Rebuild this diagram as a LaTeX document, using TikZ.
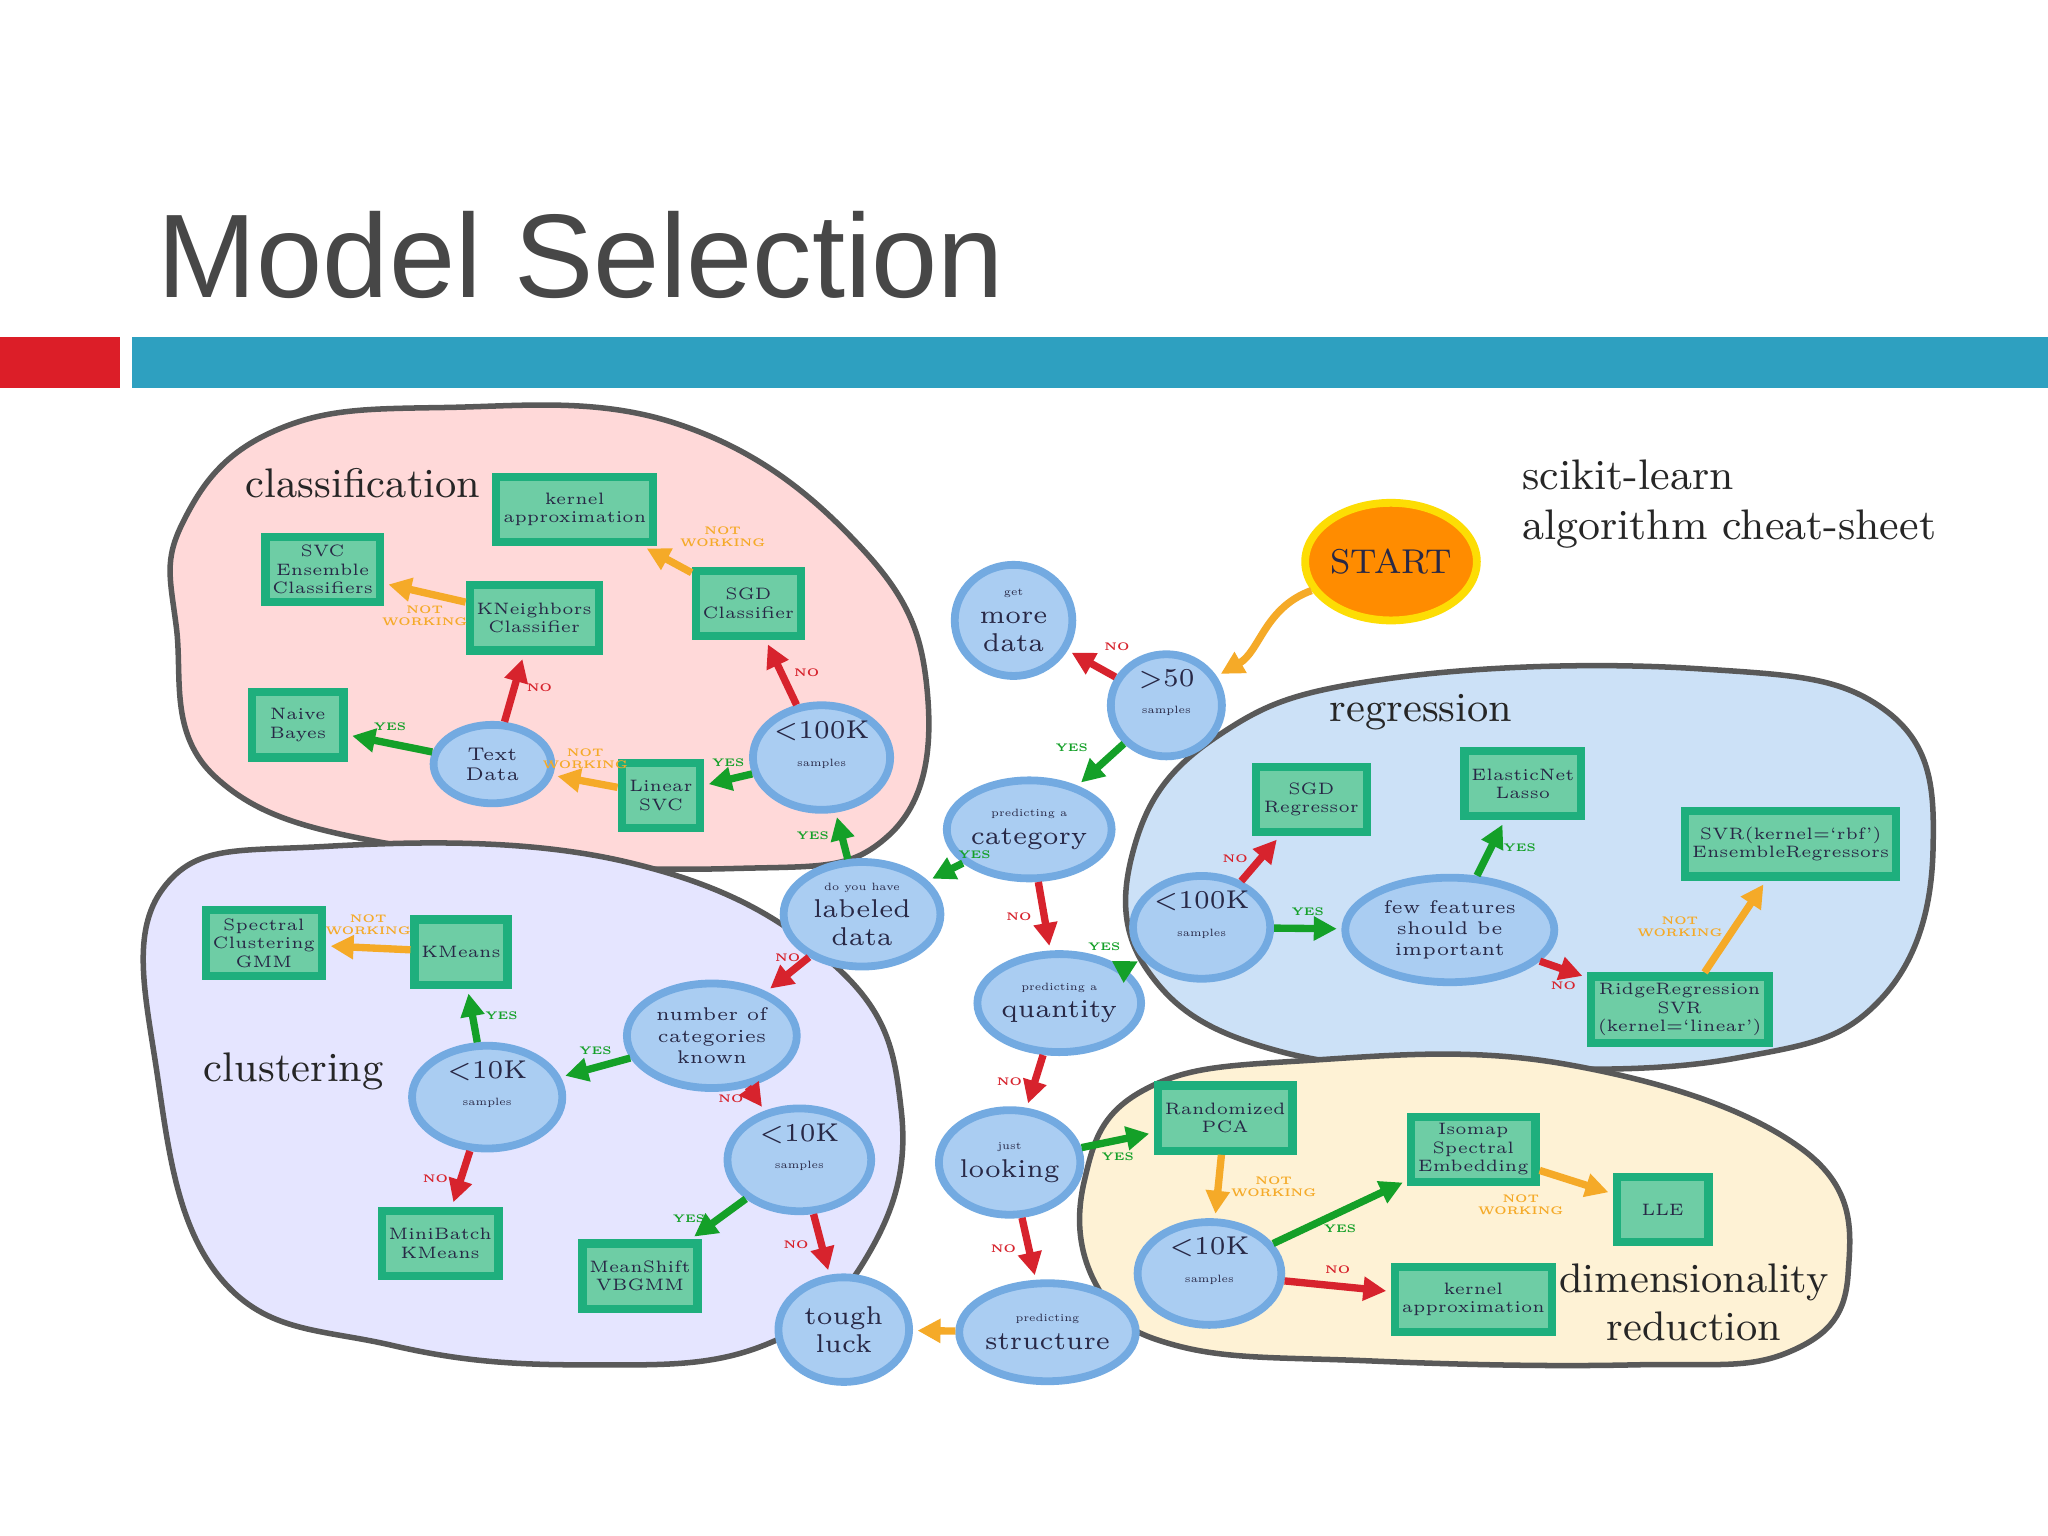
\documentclass[tikz,border=0pt]{standalone}
\usepackage{fontspec}
\newfontfamily\sans{Liberation Sans}
\usetikzlibrary{arrows.meta,shapes.geometric}
\definecolor{barblue}{RGB}{46,160,192}
\definecolor{barred}{RGB}{220,30,40}
\definecolor{elfill}{RGB}{170,205,242}
\definecolor{eldraw}{RGB}{115,170,225}
\definecolor{bxfill}{RGB}{110,205,165}
\definecolor{bxdraw}{RGB}{30,175,125}
\definecolor{cy}{RGB}{20,160,40}
\definecolor{cn}{RGB}{215,35,45}
\definecolor{co}{RGB}{245,170,40}
\definecolor{txt}{RGB}{40,40,70}
\begin{document}
\begin{tikzpicture}[x=0.01cm,y=-0.01cm,
 el/.style={ellipse,fill=elfill,draw=eldraw,line width=1.7pt,align=center,text=txt,inner sep=0pt,font=\fontsize{5.6}{6}\selectfont},
 bx/.style={rectangle,fill=bxfill,draw=bxdraw,line width=1.8pt,align=center,text=txt,inner sep=1.5pt,minimum height=0.5cm,font=\fontsize{3.6}{4}\selectfont},
 blob/.style={draw=gray!70!black,line width=1.2pt},
 ar/.style={line width=1.6pt,-{Triangle[length=5pt,width=5pt]},shorten >=1pt},
 Y/.style={ar,cy}, N/.style={ar,cn}, O/.style={ar,co},
 lb/.style={font=\fontsize{2.4}{2.6}\selectfont\bfseries,inner sep=2pt,align=center},
 grp/.style={font=\fontsize{9}{10.5}\selectfont,text=black!85}]
\useasboundingbox (0,0) rectangle (1568,1176);
\fill[white] (0,0) rectangle (1568,1176);
\node[anchor=base west,font=\sans\fontsize{25.9}{25.9}\selectfont,text=black!72,inner sep=0] (title) at (120,228) {Model Selection};
\fill[barred] (0,258) rectangle (92,297);
\fill[barblue] (101,258) rectangle (1568,297);
% blobs
\draw[blob,fill=red!15] plot[smooth cycle,tension=0.7] coordinates {(140,400)(210,330)(340,312)(520,325)(660,420)(710,530)(680,640)(560,665)(320,650)(165,595)(135,480)};
\draw[blob,fill=blue!10] plot[smooth cycle,tension=0.7] coordinates {(125,680)(250,648)(480,660)(640,740)(690,850)(665,960)(585,1030)(450,1045)(300,1030)(170,980)(120,820)};
\draw[blob,fill=elfill!60] plot[smooth cycle,tension=0.7] coordinates {(868,650)(930,565)(1060,520)(1300,512)(1445,545)(1480,650)(1440,765)(1330,810)(1150,818)(980,805)(880,745)};
\draw[blob,fill=yellow!40!orange!15] plot[smooth cycle,tension=0.7] coordinates {(830,905)(875,835)(1000,812)(1200,815)(1380,880)(1415,975)(1370,1035)(1250,1045)(1050,1042)(900,1030)(840,985)};
% group labels
\node[grp] (gcl) at (278,370) {classification};
\node[grp] (gcu) at (225,820) {clustering};
\node[grp] (gre) at (1088,545) {regression};
\node[grp,align=center] (gdr) at (1297,997) {dimensionality\\reduction};
\node[grp,anchor=west,align=left,font=\fontsize{9.3}{11}\selectfont] (gsk) at (1153,386) {scikit-learn\\algorithm cheat-sheet};
% ellipses
\node[el,fill=orange!90!yellow,draw=yellow!80!orange,minimum width=1.1cm,minimum height=0.9cm,font=\fontsize{7.5}{8}\selectfont] (start) at (1065,430) {START};
\def\sm#1{{\fontsize{2.3}{2.6}\selectfont #1}\\}
\node[el,minimum width=0.85cm,minimum height=0.75cm] (g50) at (893,540) {>50\\\sm{samples}};
\node[el,minimum width=0.9cm,minimum height=0.85cm] (more) at (776,475) {\sm{get}more\\data};
\node[el,minimum width=1.0cm,minimum height=0.75cm] (cat) at (788,635) {\sm{predicting a}category};
\node[el,minimum width=1.2cm,minimum height=0.8cm] (lab) at (660,700) {\sm{do you have}labeled\\data};
\node[el,minimum width=1.05cm,minimum height=0.8cm] (c100) at (629,580) {<100K\\\sm{samples}};
\node[el,minimum width=0.9cm,minimum height=0.6cm,font=\fontsize{4}{4.4}\selectfont] (text) at (377,585) {Text\\Data};
\node[el,minimum width=1.05cm,minimum height=0.75cm] (qty) at (811,768) {\sm{predicting a}quantity};
\node[el,minimum width=1.05cm,minimum height=0.7cm] (r100) at (920,710) {<100K\\\sm{samples}};
\node[el,minimum width=1.6cm,minimum height=0.8cm,font=\fontsize{4}{4.6}\selectfont] (few) at (1110,712) {few features\\should be\\important};
\node[el,minimum width=1.3cm,minimum height=0.8cm,font=\fontsize{4}{4.6}\selectfont] (num) at (545,793) {number of\\categories\\known};
\node[el,minimum width=1.15cm,minimum height=0.7cm] (k10a) at (373,840) {<10K\\\sm{samples}};
\node[el,minimum width=1.1cm,minimum height=0.65cm] (k10b) at (612,888) {<10K\\\sm{samples}};
\node[el,minimum width=0.95cm,minimum height=0.8cm] (look) at (773,890) {\sm{just}looking};
\node[el,minimum width=1.0cm,minimum height=0.8cm] (tough) at (646,1018) {tough\\luck};
\node[el,minimum width=1.05cm,minimum height=0.75cm] (struct) at (802,1020) {\sm{predicting}structure};
\node[el,minimum width=1.1cm,minimum height=0.65cm] (k10c) at (926,975) {<10K\\\sm{samples}};
% boxes
\node[bx,minimum width=1.1cm] (kac) at (440,390) {kernel\\approximation};
\node[bx,minimum width=0.75cm] (sgdc) at (573,462) {SGD\\Classifier};
\node[bx,minimum width=0.85cm] (svc) at (247,436) {SVC\\Ensemble\\Classifiers};
\node[bx,minimum width=0.95cm] (knn) at (409,473) {KNeighbors\\Classifier};
\node[bx,minimum width=0.7cm] (nb) at (228,555) {Naive\\Bayes};
\node[bx,minimum width=0.6cm] (lsvc) at (506,609) {Linear\\SVC};
\node[bx,minimum width=0.85cm] (spec) at (202,722) {Spectral\\Clustering\\GMM};
\node[bx,minimum width=0.7cm] (km) at (353,729) {KMeans};
\node[bx,minimum width=0.85cm] (mbk) at (337,952) {MiniBatch\\KMeans};
\node[bx,minimum width=0.85cm] (ms) at (490,977) {MeanShift\\VBGMM};
\node[bx,minimum width=0.85cm] (sgdr) at (1004,612) {SGD\\Regressor};
\node[bx,minimum width=0.85cm] (en) at (1166,600) {ElasticNet\\Lasso};
\node[bx,minimum width=1.5cm] (svr) at (1371,646) {SVR(kernel=`rbf')\\EnsembleRegressors};
\node[bx,minimum width=1.2cm] (ridge) at (1286,773) {RidgeRegression\\SVR\\(kernel=`linear')};
\node[bx,minimum width=0.95cm] (pca) at (938,856) {Randomized\\PCA};
\node[bx,minimum width=0.8cm] (iso) at (1128,880) {Isomap\\Spectral\\Embedding};
\node[bx,minimum width=0.7cm] (lle) at (1273,926) {LLE};
\node[bx,minimum width=1.1cm] (kad) at (1128,995) {kernel\\approximation};
% edges
\draw[O] (start) to[out=200,in=30] (g50);
\draw[N] (g50) -- node[lb,cn,above right]{NO} (more);
\draw[Y] (g50) -- node[lb,cy,above left]{YES} (cat);
\draw[Y] (cat) -- node[lb,cy,above right]{YES} (lab);
\draw[N] (cat) -- node[lb,cn,left]{NO} (qty);
\draw[Y] (lab) -- node[lb,cy,left]{YES} (c100);
\draw[N] (lab) -- node[lb,cn,above]{NO} (num);
\draw[N] (c100) -- node[lb,cn,right]{NO} (sgdc);
\draw[O] (sgdc) -- node[lb,co,above right]{NOT\\WORKING} (kac);
\draw[Y] (c100) -- node[lb,cy,above]{YES} (lsvc);
\draw[O] (lsvc) -- node[lb,co,above]{NOT\\WORKING} (text);
\draw[Y] (text) -- node[lb,cy,above]{YES} (nb);
\draw[N] (text) -- node[lb,cn,right]{NO} (knn);
\draw[O] (knn) -- node[lb,co,below]{NOT\\WORKING} (svc);
\draw[Y] (num) -- node[lb,cy,above]{YES} (k10a);
\draw[Y] (k10a) -- node[lb,cy,right]{YES} (km);
\draw[O] (km) -- node[lb,co,above]{NOT\\WORKING} (spec);
\draw[N] (k10a) -- node[lb,cn,left]{NO} (mbk);
\draw[N] (num) -- node[lb,cn,left]{NO} (k10b);
\draw[Y] (k10b) -- node[lb,cy,left]{YES} (ms);
\draw[N] (k10b) -- node[lb,cn,left]{NO} (tough);
\draw[Y] (qty) -- node[lb,cy,above left]{YES} (r100);
\draw[N] (qty) -- node[lb,cn,left]{NO} (look);
\draw[N] (r100) -- node[lb,cn,left]{NO} (sgdr);
\draw[Y] (r100) -- node[lb,cy,above]{YES} (few);
\draw[Y] (few) -- node[lb,cy,right]{YES} (en);
\draw[N] (few) -- node[lb,cn,below]{NO} (ridge);
\draw[O] (ridge) -- node[lb,co,left]{NOT\\WORKING} (svr);
\draw[Y] (look) -- node[lb,cy,below]{YES} (pca);
\draw[N] (look) -- node[lb,cn,left]{NO} (struct);
\draw[O] (struct) -- (tough);
\draw[O] (pca) -- node[lb,co,right]{NOT\\WORKING} (k10c);
\draw[Y] (k10c) -- node[lb,cy,below]{YES} (iso);
\draw[O] (iso) -- node[lb,co,below left]{NOT\\WORKING} (lle);
\draw[N] (k10c) -- node[lb,cn,above]{NO} (kad);
\end{tikzpicture}
\end{document}
